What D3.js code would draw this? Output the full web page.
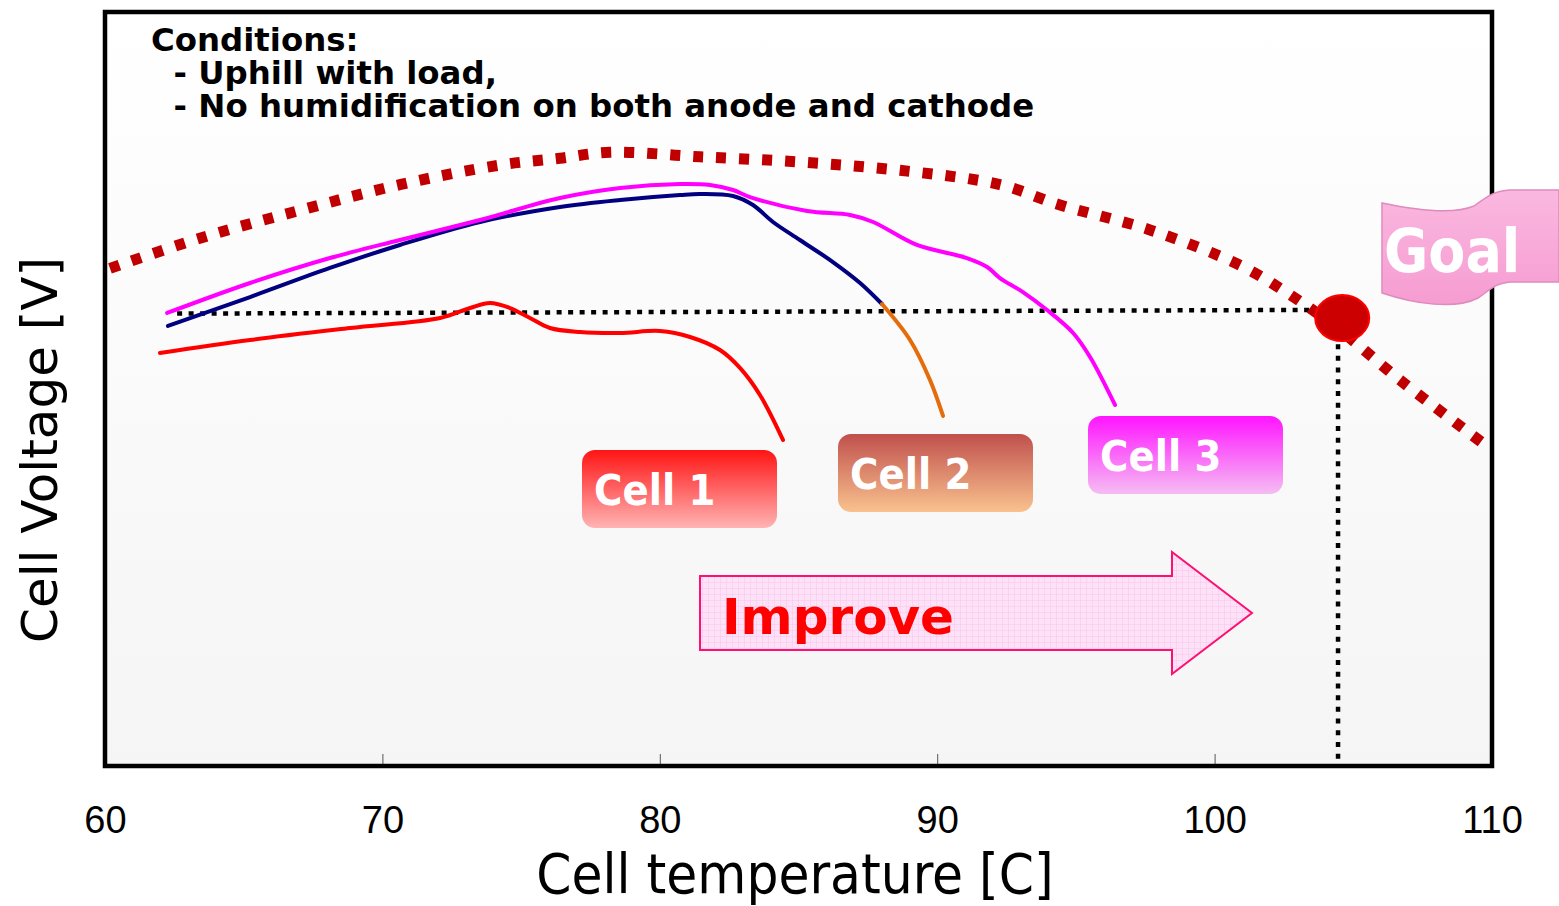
<html>
<script src='https://d3js.org/d3.v7.min.js'></script>
<style>
body {margin:0; background:#fff;}
text {font-family: "DejaVu Sans Condensed", "DejaVu Sans"; font-stretch: condensed;}
</style>
<body onload='init()'>
<svg width=1559 height=906></svg>
<script>
// cell temperature [C] / relative cell voltage (no scale on the y axis)
var cell1T = [61.98,65.23,68.83,72.08,73.16,73.88,74.60,75.32,76.04,77.12,78.57,80.01,81.09,82.17,82.89,83.61,84.44]
var cell1V = [54.77,56.50,58.09,59.42,60.74,61.41,60.74,59.42,58.09,57.56,57.43,57.69,56.90,55.17,52.79,49.20,43.24]
var cell2T = [62.27,65.23,68.11,70.63,73.52,76.40,78.57,80.73,81.45,82.64,83.36,84.08,85.05,86.24,87.22,88.01]
var cell2V = [58.36,62.20,66.05,69.10,72.15,74.14,75.07,75.73,75.86,75.60,74.40,72.15,69.76,66.84,64.06,61.27]
var cell2bT = [88.01,89.02,89.74,90.21]
var cell2bV = [61.27,56.50,51.19,46.42]
var cell3T = [62.24,65.23,68.11,70.63,73.52,76.40,78.57,80.73,81.81,82.64,83.25,85.31,86.86,87.69,89.27,91.07,91.80,92.26,93.09,93.96,94.90,95.51,96.41]
var cell3V = [60.08,64.06,67.37,69.76,72.41,75.33,76.66,77.19,77.06,76.39,75.46,73.61,73.08,72.15,69.10,67.37,66.18,64.72,62.86,60.48,57.43,54.24,47.88]
var goalT = [60.18,63.42,67.03,70.63,74.24,76.40,78.20,81.45,85.05,88.66,92.26,94.43,97.67,100.92,102.72,104.52,106.68,109.75]
var goalV = [66.0,70.0,73.7,77.1,79.7,80.6,81.4,80.8,80.1,79.0,77.1,74.4,71.1,66.4,62.5,57.8,51.2,42.6]
var targetT = [62.6, 104.6]
var targetV = [60.0, 60.5]
var goalPointT = 104.6, goalPointV = 59.4
var xTicks = [60,70,80,90,100,110]
var conditions = ["Conditions:", "  - Uphill with load,", "  - No humidification on both anode and cathode"]

function pts(t, v) { return t.map(function(d,i){ return [d, v[i]] }) }

function init() {
  var svg = d3.select("svg")
  var x = d3.scaleLinear().domain([60,110]).range([105,1492])
  var y = d3.scaleLinear().domain([0,100]).range([766,12])
  var defs = svg.append("defs")

  var bg = defs.append("linearGradient").attr("id","bg").attr("x1",0).attr("y1",0).attr("x2",0).attr("y2",1)
  bg.append("stop").attr("offset","0").attr("stop-color","#ffffff")
  bg.append("stop").attr("offset","1").attr("stop-color","#f5f5f5")

  function grad(id, c1, c2) {
    var g = defs.append("linearGradient").attr("id",id).attr("x1",0).attr("y1",0).attr("x2",0).attr("y2",1)
    g.append("stop").attr("offset","0").attr("stop-color",c1)
    g.append("stop").attr("offset","1").attr("stop-color",c2)
  }
  grad("g1","#ff1414","#ffb4b4")
  grad("g2","#c0504d","#f9c28e")
  grad("g3","#ff14ff","#f5bdf2")
  grad("gflag","#fab8df","#f69cd2")

  var pat = defs.append("pattern").attr("id","grid").attr("width",6).attr("height",6).attr("patternUnits","userSpaceOnUse")
  pat.append("rect").attr("width",6).attr("height",6).attr("fill","#fde2f7")
  pat.append("path").attr("d","M6,0 L0,0 0,6").attr("fill","none").attr("stroke","#f9c2ee").attr("stroke-width",1)

  // plot area
  svg.append("rect").attr("x",x(60)).attr("y",y(100)).attr("width",x(110)-x(60)).attr("height",y(0)-y(100))
    .attr("fill","url(#bg)")

  // inner ticks + labels
  var ax = svg.append("g").attr("transform","translate(0,"+y(0)+")")
    .call(d3.axisBottom(x).tickValues(xTicks).tickSize(-12).tickPadding(40))
  ax.select(".domain").remove()
  ax.selectAll("line").attr("stroke","#555").attr("stroke-width",1)
  ax.selectAll("text").attr("font-size",38).attr("fill","#000")
    .style("font-family",'"Liberation Sans", Arial').style("font-stretch","normal")

  // conditions text
  svg.append("g").selectAll("text").data(conditions).enter().append("text")
    .attr("x",151).attr("y",function(d,i){ return 51 + i*33 })
    .attr("font-size",32.4).attr("font-weight","bold").attr("xml:space","preserve")
    .style("white-space","pre").style("font-family","DejaVu Sans").style("font-stretch","normal")
    .text(function(d){ return d })

  var line = d3.line().x(function(d){ return x(d[0]) }).y(function(d){ return y(d[1]) }).curve(d3.curveCatmullRom)

  // target dotted lines
  svg.append("path").attr("d", line(pts(targetT, targetV))).attr("fill","none")
    .attr("stroke","#000").attr("stroke-width",4.5).attr("stroke-dasharray","5,6.5")
  svg.append("line").attr("x1",x(104.45)).attr("x2",x(104.45)).attr("y1",y(57.5)).attr("y2",y(0))
    .attr("stroke","#000").attr("stroke-width",4.5).attr("stroke-dasharray","5,6.7")

  // cell curves
  var series = [
    {t: cell1T, v: cell1V, c: "#ff0000"},
    {t: cell2T, v: cell2V, c: "#000080"},
    {t: cell2bT, v: cell2bV, c: "#e46c0a"},
    {t: cell3T, v: cell3V, c: "#ff00ff"}
  ]
  svg.append("g").selectAll("path").data(series).enter().append("path")
    .attr("d", function(d){ return line(pts(d.t, d.v)) })
    .attr("fill","none").attr("stroke", function(d){ return d.c })
    .attr("stroke-width",4).attr("stroke-linecap","round")

  // goal curve
  svg.append("path").attr("d", line(pts(goalT, goalV))).attr("fill","none")
    .attr("stroke","#c00000").attr("stroke-width",11).attr("stroke-dasharray","10,13")

  // frame
  svg.append("rect").attr("x",x(60)).attr("y",y(100)).attr("width",x(110)-x(60)).attr("height",y(0)-y(100))
    .attr("fill","none").attr("stroke","#000").attr("stroke-width",4.5)

  // goal point
  svg.append("ellipse").attr("cx",x(goalPointT)).attr("cy",y(goalPointV)).attr("rx",27).attr("ry",23)
    .attr("fill","#cc0000").attr("stroke","#ff0000").attr("stroke-width",2)

  // cell labels
  var labels = [
    {name:"Cell 1", bx:582, by:450, g:"g1"},
    {name:"Cell 2", bx:838, by:434, g:"g2"},
    {name:"Cell 3", bx:1088, by:416, g:"g3"}
  ]
  var lg = svg.append("g").selectAll("g").data(labels).enter().append("g")
    .attr("transform", function(d){ return "translate("+d.bx+","+d.by+")" })
  lg.append("rect").attr("width",195).attr("height",78).attr("rx",13)
    .attr("fill", function(d){ return "url(#"+d.g+")" })
  lg.append("text").attr("x",12).attr("y",55).attr("fill","#fff").attr("font-size",43).attr("font-weight","bold")
    .text(function(d){ return d.name })

  // improve arrow
  svg.append("path").attr("d","M700,576 L1172,576 L1172,552 L1252,613 L1172,674 L1172,650 L700,650 Z")
    .attr("fill","url(#grid)").attr("stroke","#ff0f6f").attr("stroke-width",2)
  svg.append("text").attr("x",722).attr("y",634).attr("fill","#ff0000").attr("font-size",50)
    .attr("font-weight","bold").style("font-family","DejaVu Sans").style("font-stretch","normal").text("Improve")

  // goal flag
  svg.append("path")
    .attr("d","M1382,203 C1420,211 1455,214 1474,206 C1486,198 1492,191 1510,190 L1559,190 L1559,282 L1510,282 C1494,283 1488,292 1478,298 C1455,310 1415,304 1382,293 Z")
    .attr("fill","url(#gflag)").attr("stroke","#de8bbd").attr("stroke-width",1.5)
  svg.append("text").attr("x",1384).attr("y",272).attr("fill","#fff").attr("font-size",60)
    .attr("font-weight","bold").text("Goal")

  // axis titles
  svg.append("text").attr("x",795).attr("y",893).attr("text-anchor","middle").attr("font-size",56)
    .text("Cell temperature [C]")
  svg.append("text").attr("transform","translate(57,450) rotate(-90)").attr("text-anchor","middle")
    .attr("font-size",50).style("font-stretch","normal").style("font-family","DejaVu Sans")
    .text("Cell Voltage [V]")
}
</script>
</body>
</html>
